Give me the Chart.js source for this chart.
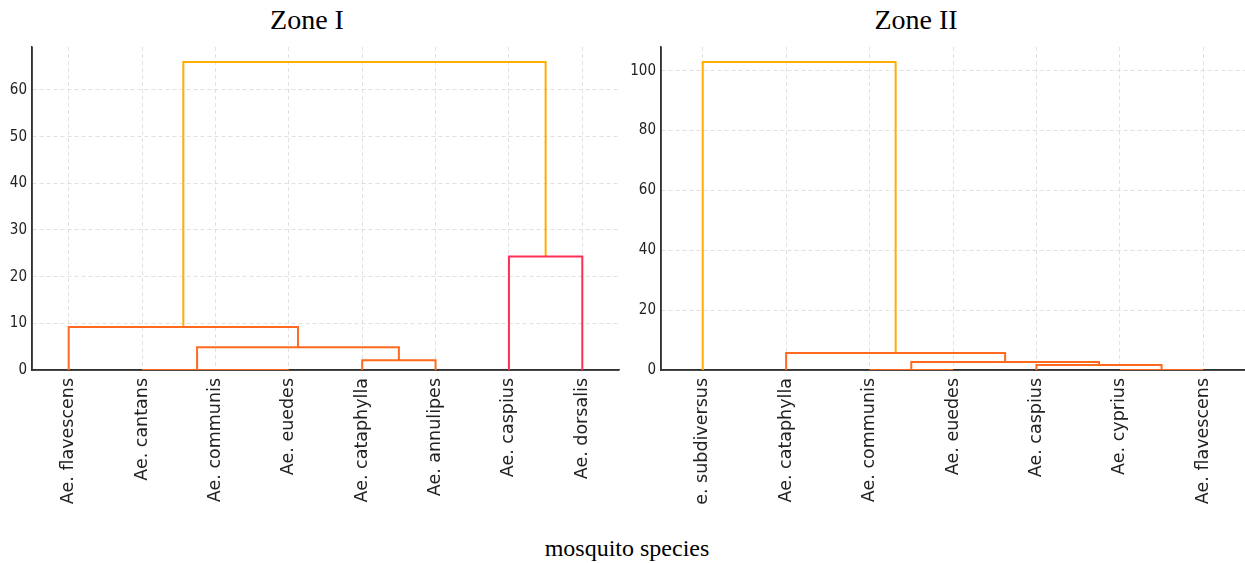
<!DOCTYPE html>
<html>
<head>
<meta charset="utf-8">
<script src="https://cdn.jsdelivr.net/npm/chart.js@4"></script>
<style>
  body { margin: 0; background: #fff; width: 1245px; height: 563px; position: relative; overflow: hidden; }
  .box { position: absolute; top: 40px; height: 465px; }
  .title { position: absolute; font-family: "Liberation Serif", "Times New Roman", serif; color: #000; white-space: nowrap; transform: translateX(-50%); }
</style>
</head>
<body>
<div class="title" style="left:307px; top:4px; font-size:28px;">Zone I</div>
<div class="title" style="left:916px; top:4px; font-size:28px;">Zone II</div>
<div class="box" style="left:0; width:625px;"><canvas id="zone1"></canvas></div>
<div class="box" style="left:625px; width:620px;"><canvas id="zone2"></canvas></div>
<div class="title" style="left:627px; top:535px; font-size:24px;">mosquito species</div>

<script>
// Zone I leaves, left to right
const zone1Leaves = ["Ae. flavescens", "Ae. cantans", "Ae. communis", "Ae. euedes",
                     "Ae. cataphylla", "Ae. annulipes", "Ae. caspius", "Ae. dorsalis"]
// merges: node ids 0..n-1 are leaves, each merge makes the next id
const zone1MergeA   = [2, 1, 4, 9, 0, 6, 12]
const zone1MergeB   = [3, 8, 5, 10, 11, 7, 13]
const zone1Heights  = [0, 0, 2.1, 4.9, 9.2, 24.3, 66.0]
const zone1Colors   = ["#ff6a1f", "#ff6a1f", "#ff6a1f", "#ff6a1f", "#ff6a1f", "#ff2e55", "#ffad00"]
const zone1Ticks    = [0, 10, 20, 30, 40, 50, 60]
const zone1Max      = 69.2

// Zone II
const zone2Leaves = ["Ae. subdiversus", "Ae. cataphylla", "Ae. communis", "Ae. euedes",
                     "Ae. caspius", "Ae. cyprius", "Ae. flavescens"]
const zone2MergeA   = [2, 5, 4, 7, 1, 0]
const zone2MergeB   = [3, 6, 8, 9, 10, 11]
const zone2Heights  = [0, 0, 1.7, 2.7, 5.7, 102.9]
const zone2Colors   = ["#ff6a1f", "#ff6a1f", "#ff6a1f", "#ff6a1f", "#ff6a1f", "#ffad00"]
const zone2Ticks    = [0, 20, 40, 60, 80, 100]
const zone2Max      = 107.9

// build the U shaped links the same way scipy's dendrogram does
function buildLinks(leaves, mA, mB, heights, colors) {
  const n = leaves.length
  const xs = leaves.map((_, i) => 5 + 10 * i)
  const ys = leaves.map(() => 0)
  const sets = []
  for (let k = 0; k < mA.length; k++) {
    const a = mA[k], b = mB[k], h = heights[k]
    sets.push({
      data: [{x: xs[a], y: ys[a]}, {x: xs[a], y: h}, {x: xs[b], y: h}, {x: xs[b], y: ys[b]}],
      showLine: true,
      borderColor: colors[k],
      backgroundColor: colors[k],
      borderWidth: 2,
      pointRadius: 0,
      tension: 0
    })
    xs[n + k] = (xs[a] + xs[b]) / 2
    ys[n + k] = h
  }
  return sets
}

const gridStyle = { color: "#d9d9d9", lineWidth: 0.8, drawTicks: false }

function makeChart(id, leaves, mA, mB, heights, colors, yTicks, yMax, yWidth, padRight) {
  const leafPos = leaves.map((_, i) => 5 + 10 * i)
  return new Chart(document.getElementById(id), {
    type: "scatter",
    data: { datasets: buildLinks(leaves, mA, mB, heights, colors) },
    options: {
      responsive: true,
      maintainAspectRatio: false,
      animation: false,
      layout: { padding: { top: 7, right: padRight, left: 0, bottom: 0 } },
      plugins: { legend: { display: false }, tooltip: { enabled: false } },
      scales: {
        x: {
          type: "linear",
          min: 0,
          max: leaves.length * 10,
          afterBuildTicks: s => { s.ticks = leafPos.map(v => ({ value: v })) },
          afterFit: s => { s.height = 135; s.paddingLeft = 0; s.paddingRight = 0 },
          grid: gridStyle,
          border: { display: true, color: "#333", width: 1.5, dash: [4, 3] },
          ticks: {
            autoSkip: false,
            minRotation: 90,
            maxRotation: 90,
            padding: 8,
            color: "#222",
            font: { family: "'DejaVu Sans', sans-serif", size: 17.5 },
            callback: v => leaves[leafPos.indexOf(v)]
          }
        },
        y: {
          min: 0,
          max: yMax,
          afterBuildTicks: s => { s.ticks = yTicks.map(v => ({ value: v })) },
          afterFit: s => { s.width = yWidth; s.paddingTop = 0; s.paddingBottom = 0 },
          grid: gridStyle,
          border: { display: true, color: "#333", width: 1.5, dash: [4, 3] },
          ticks: {
            padding: 5,
            color: "#222",
            font: { family: "'DejaVu Sans Condensed', 'Liberation Sans Narrow', 'DejaVu Sans', sans-serif", size: 15 }
          }
        }
      }
    },
    plugins: [{
      // solid axis lines on the left and bottom (grid lines stay dashed)
      id: "axes",
      beforeDatasetsDraw(chart) {
        const { ctx, chartArea: a } = chart
        ctx.save()
        ctx.strokeStyle = "#333"
        ctx.lineWidth = 1.5
        ctx.beginPath()
        ctx.moveTo(a.left, a.top)
        ctx.lineTo(a.left, a.bottom)
        ctx.lineTo(a.right, a.bottom)
        ctx.stroke()
        ctx.restore()
      }
    }]
  })
}

makeChart("zone1", zone1Leaves, zone1MergeA, zone1MergeB, zone1Heights, zone1Colors, zone1Ticks, zone1Max, 32, 6)
makeChart("zone2", zone2Leaves, zone2MergeA, zone2MergeB, zone2Heights, zone2Colors, zone2Ticks, zone2Max, 36, 0)
</script>
</body>
</html>
